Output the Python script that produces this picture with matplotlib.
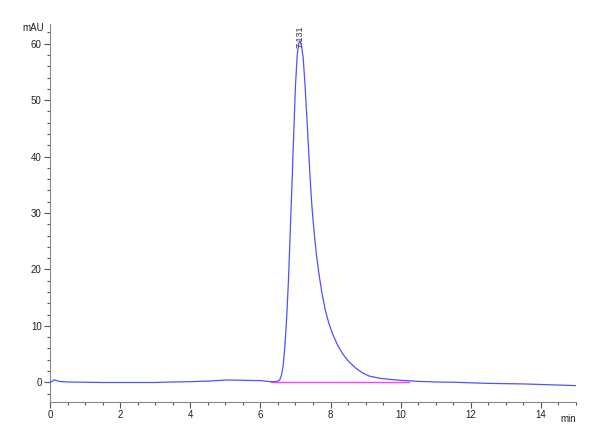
import matplotlib
matplotlib.use("Agg")
import matplotlib.pyplot as plt
from matplotlib.ticker import MultipleLocator

# Chromatogram data (retention time in min, signal in mAU)
time_min = [0, 0.05, 0.12, 0.25, 0.5, 1, 1.5, 2, 2.5, 3, 3.5, 4, 4.5, 4.8, 5,
            5.5, 5.8, 6.0, 6.2, 6.3, 6.4, 6.5, 6.55, 6.6, 6.65, 6.7, 6.75, 6.8,
            6.85, 6.9, 6.95, 7.0, 7.05, 7.1, 7.13, 7.17, 7.22, 7.27, 7.32, 7.38,
            7.42, 7.46, 7.5, 7.55, 7.6, 7.67, 7.75, 7.85, 7.95, 8.05, 8.2, 8.35,
            8.5, 8.7, 8.9, 9.1, 9.4, 9.7, 10.0, 10.5, 11, 11.5, 12, 12.5, 13,
            13.5, 14, 14.5, 15]
signal_mau = [0.0, 0.1, 0.45, 0.15, 0.05, 0.0, -0.05, -0.05, -0.05, -0.05, 0.05,
              0.1, 0.2, 0.3, 0.4, 0.35, 0.3, 0.3, 0.15, 0.1, 0.1, 0.2, 0.4, 1.2,
              3.0, 6.5, 11.5, 18.0, 26.5, 35.0, 44.0, 52.5, 58.0, 60.3, 60.5,
              59.7, 57.5, 53.0, 47.5, 40.5, 36.0, 32.0, 28.8, 25.5, 22.5, 19.2,
              16.0, 12.8, 10.5, 8.7, 6.6, 5.0, 3.8, 2.6, 1.7, 1.1, 0.7, 0.5,
              0.35, 0.15, 0.05, 0.0, -0.1, -0.2, -0.25, -0.3, -0.4, -0.5, -0.6]

baseline_t = [6.3, 10.25]
baseline_y = [0.1, 0.1]

peak_rt = 7.131
peak_label = "7.131"

x_ticks = [0, 2, 4, 6, 8, 10, 12, 14]
y_ticks = [0, 10, 20, 30, 40, 50, 60]

plt.rcParams['font.family'] = ['Liberation Sans', 'DejaVu Sans']

fig = plt.figure(figsize=(6, 4.4), dpi=100)
ax = fig.add_axes([0.0833, 0.0864, 0.8767, 0.8591])

ax.plot(baseline_t, baseline_y, color='#ff44ff', lw=1.0, zorder=2)
ax.plot(time_min, signal_mau, color='#5050ff', lw=0.9, zorder=3)

ax.text(peak_rt, 59.2, peak_label, rotation=90, ha='center', va='bottom',
        fontsize=6.5, color='#333333')

ax.set_xlim(0, 15)
ax.set_ylim(-3.5, 63.5)
ax.set_xticks(x_ticks)
ax.set_yticks(y_ticks)
ax.xaxis.set_minor_locator(MultipleLocator(0.5))
ax.yaxis.set_minor_locator(MultipleLocator(2))

for s in ['top', 'right']:
    ax.spines[s].set_visible(False)
for s in ['left', 'bottom']:
    ax.spines[s].set_color('#888888')
    ax.spines[s].set_linewidth(0.8)

ax.tick_params(axis='both', which='major', length=4, width=0.8, color='#555555',
               labelsize=7, labelcolor='#222222', pad=2)
ax.tick_params(axis='both', which='minor', length=2.5, width=0.8, color='#555555')

ax.text(-0.012, 1.0 - 0.01, 'mAU', transform=ax.transAxes, ha='right', va='center',
        fontsize=7, color='#222222')
ax.text(1.0, -0.045, 'min', transform=ax.transAxes, ha='right', va='center',
        fontsize=7, color='#222222')

fig.savefig('out.png', dpi=100)
